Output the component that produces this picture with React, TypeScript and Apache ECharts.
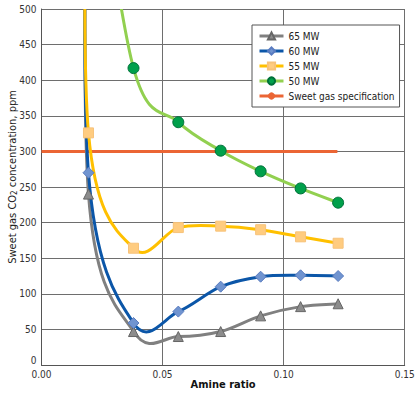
import React, { useEffect, useRef } from 'react';
import * as echarts from 'echarts';

// Amine ratio (x) for the plotted points
const ratio = [0.0194, 0.038, 0.0565, 0.074, 0.0905, 0.107, 0.1225];
// Sweet gas CO2 concentration, ppm
const mw65 = [240, 47, 40, 47, 69, 82, 86];
const mw60 = [270, 59, 75, 110, 124, 126, 125];
const mw55 = [326, 164, 193, 195, 190, 180, 171];
const mw50 = [800, 417, 341, 301, 272, 248, 228]; // first value is off-scale (above 500)
// Off-scale leading values (curves rise beyond 500 ppm at the low-ratio end)
const leadRatio65 = 0.0191;
const leadRatio = 0.0189;
const leadValue65 = 900;
const leadValue60 = 900;
const leadValue55 = 900;
// Sweet gas specification
const specValue = 300;
const specRange = [0, 0.1222];

const xTicks = { min: 0, max: 0.15, interval: 0.05 };
const yTicks = { min: 0, max: 500, interval: 50 };

const FONT = "'Liberation Sans Narrow', 'DejaVu Sans Condensed', 'Arial Narrow', sans-serif";

const C65 = '#808080';
const C60 = '#0B56A8';
const C55 = '#FFC000';
const C50 = '#92D050';
const CSPEC = '#EB6534';

function pairs(xs: number[], ys: number[]) {
  return xs.map((x, i) => [x, ys[i]]);
}

// Smoothed path through pixel points (cardinal spline, tension 1/6 like spreadsheet smoothing)
function smoothPath(pts: number[][]) {
  let d = `M${pts[0][0]},${pts[0][1]}`;
  for (let i = 0; i < pts.length - 1; i++) {
    const p0 = pts[i - 1] || pts[i];
    const p1 = pts[i];
    const p2 = pts[i + 1];
    const p3 = pts[i + 2] || pts[i + 1];
    const c1x = p1[0] + (p2[0] - p0[0]) / 6;
    const c1y = p1[1] + (p2[1] - p0[1]) / 6;
    const c2x = p2[0] - (p3[0] - p1[0]) / 6;
    const c2y = p2[1] - (p3[1] - p1[1]) / 6;
    d += ` C${c1x},${c1y} ${c2x},${c2y} ${p2[0]},${p2[1]}`;
  }
  return d;
}

function curveSeries(id: string, data: number[][], color: string, z: number) {
  return {
    id,
    name: id,
    type: 'custom',
    data,
    z,
    silent: true,
    encode: { x: 0, y: 1 },
    renderItem: (params: any, api: any) => {
      if (params.dataIndex !== 0) return null;
      const pts = data.map((p) => api.coord(p));
      const cs = params.coordSys;
      return {
        type: 'group',
        clipPath: { type: 'rect', shape: { x: cs.x, y: cs.y, width: cs.width, height: cs.height } },
        children: [
          {
            type: 'path',
            shape: { pathData: smoothPath(pts) },
            style: { stroke: color, lineWidth: 3, fill: 'none', lineJoin: 'round', lineCap: 'round' },
          },
        ],
      };
    },
  };
}

function markerSeries(name: string, data: number[][], color: string, symbol: string, size: number, fill: string, border: string, z: number) {
  return {
    name,
    type: 'line',
    data,
    symbol,
    symbolSize: size,
    clip: true,
    z,
    lineStyle: { color, width: 3, opacity: 0 },
    itemStyle: { color: fill, borderColor: border, borderWidth: 1 },
  };
}

export default function App() {
  const ref = useRef<HTMLDivElement>(null);
  useEffect(() => {
    if (!ref.current) return;
    const chart = echarts.init(ref.current, null, { renderer: 'svg' });
    const d65 = [[leadRatio65, leadValue65], ...pairs(ratio, mw65)];
    const d60 = [[leadRatio, leadValue60], ...pairs(ratio, mw60)];
    const d55 = [[leadRatio, leadValue55], ...pairs(ratio, mw55)];
    const d50 = pairs(ratio, mw50);
    chart.setOption({
      animation: false,
      backgroundColor: '#ffffff',
      grid: { left: 41.5, right: 15.3, top: 9, bottom: 30, containLabel: false, outerBoundsMode: 'none' },
      legend: {
        orient: 'vertical',
        left: 252,
        top: 25,
        padding: [4, 5, 4, 6],
        backgroundColor: '#ffffff',
        borderColor: '#555555',
        borderWidth: 1,
        borderRadius: 0,
        itemWidth: 24,
        itemHeight: 9,
        itemGap: 1,
        textStyle: { fontFamily: FONT, fontSize: 10, color: '#222222', lineHeight: 14 },
        data: [
          { name: '65 MW', lineStyle: { color: C65, width: 3, opacity: 1 } },
          { name: '60 MW', lineStyle: { color: C60, width: 3, opacity: 1 } },
          { name: '55 MW', lineStyle: { color: C55, width: 3, opacity: 1 } },
          { name: '50 MW', lineStyle: { color: C50, width: 3, opacity: 1 } },
          { name: 'Sweet gas specification', lineStyle: { color: CSPEC, width: 3, opacity: 1 } },
        ],
      },
      xAxis: {
        type: 'value',
        min: xTicks.min,
        max: xTicks.max,
        interval: xTicks.interval,
        name: 'Amine ratio',
        nameLocation: 'middle',
        nameGap: 13,
        nameMoveOverlap: false,
        nameTextStyle: { fontFamily: FONT, fontSize: 11, color: '#111111', fontWeight: 'bold', lineHeight: 13 },
        axisLine: { show: true, lineStyle: { color: '#555555', width: 1 } },
        axisTick: { show: false },
        axisLabel: {
          fontFamily: FONT, fontSize: 10, color: '#333333', margin: 4,
          formatter: (v: number) => v.toFixed(2),
        },
        splitLine: { show: true, lineStyle: { color: '#6e6e6e', width: 1 } },
      },
      yAxis: {
        type: 'value',
        min: yTicks.min,
        max: yTicks.max,
        interval: yTicks.interval,
        name: 'Sweet gas CO{sub|2} concentration, ppm',
        nameLocation: 'middle',
        nameGap: 23,
        nameMoveOverlap: false,
        nameTextStyle: {
          fontFamily: FONT, fontSize: 11, color: '#222222', padding: [0, 0, 0, 20],
          rich: {
            sub: { fontFamily: FONT, fontSize: 8, color: '#222222', verticalAlign: 'bottom', padding: [5, 0, 0, 0] },
          },
        },
        axisLine: { show: true, lineStyle: { color: '#555555', width: 1 } },
        axisTick: { show: false },
        axisLabel: {
          fontFamily: FONT, fontSize: 10, color: '#333333', margin: 5,
          formatter: (v: number) => (v === 0 ? '{z|0}' : String(v)),
          rich: { z: { fontFamily: FONT, fontSize: 10, color: '#333333', padding: [0, 0, 10, 0] } },
        },
        splitLine: { show: true, lineStyle: { color: '#6e6e6e', width: 1 } },
      },
      series: [
        {
          name: 'Sweet gas specification',
          type: 'line',
          data: specRange.map((x) => [x, specValue]),
          symbol: 'none',
          lineStyle: { color: CSPEC, width: 3 },
          itemStyle: { color: CSPEC },
          z: 2,
        },
        curveSeries('curve65', d65, C65, 3),
        curveSeries('curve60', d60, C60, 4),
        curveSeries('curve55', d55, C55, 5),
        curveSeries('curve50', d50, C50, 6),
        markerSeries('65 MW', d65, C65, 'triangle', 10, '#8C8C8C', '#666666', 10),
        markerSeries('60 MW', d60, C60, 'diamond', 11, '#7094D0', '#5A7CC0', 11),
        markerSeries('55 MW', d55, C55, 'rect', 10, '#FFCC80', '#F7C27A', 12),
        markerSeries('50 MW', d50, C50, 'circle', 11, '#00A04B', '#00703A', 13),
      ],
    });
    return () => chart.dispose();
  }, []);
  return (
    <div
      ref={ref}
      style={{ position: 'absolute', left: 0, top: 0, width: 420, height: 395 }}
    />
  );
}
